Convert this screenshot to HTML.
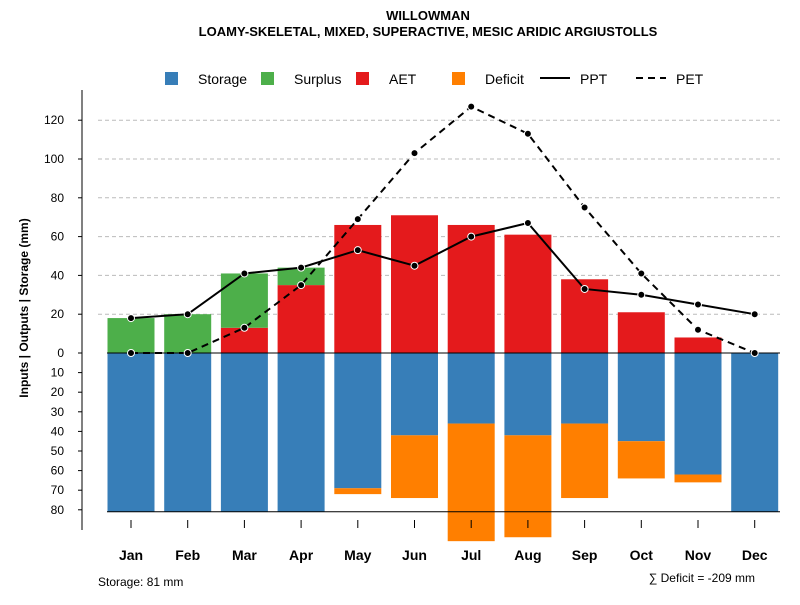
<!DOCTYPE html>
<html><head><meta charset="utf-8"><style>
body{margin:0;background:#fff;}
svg{font-family:"Liberation Sans",Arial,sans-serif;}
</style></head><body>
<svg id="chart" width="800" height="600">
<text x="428" y="20" text-anchor="middle" font-size="13" font-weight="bold">WILLOWMAN</text>
<text x="428" y="36" text-anchor="middle" font-size="13" font-weight="bold">LOAMY-SKELETAL, MIXED, SUPERACTIVE, MESIC ARIDIC ARGIUSTOLLS</text>
<g id="legend">
<g><rect x="165" y="72" width="13" height="13" fill="#377eb8"/><text x="198" y="84" font-size="14">Storage</text></g>
<g><rect x="261" y="72" width="13" height="13" fill="#4daf4a"/><text x="294" y="84" font-size="14">Surplus</text></g>
<g><rect x="356" y="72" width="13" height="13" fill="#e41a1c"/><text x="389" y="84" font-size="14">AET</text></g>
<g><rect x="452" y="72" width="13" height="13" fill="#ff7f00"/><text x="485" y="84" font-size="14">Deficit</text></g>
<g><line x1="540" y1="78" x2="570" y2="78" stroke="#000" stroke-width="2"/><text x="580" y="84" font-size="14">PPT</text></g>
<g><line x1="636" y1="78" x2="666" y2="78" stroke="#000" stroke-width="2" stroke-dasharray="7,5"/><text x="676" y="84" font-size="14">PET</text></g>
</g>
<text transform="translate(28,308) rotate(-90)" text-anchor="middle" font-size="12" font-weight="bold">Inputs | Outputs | Storage    (mm)</text>
<text x="98" y="586" font-size="12">Storage: 81 mm</text>
<text x="755" y="582" text-anchor="end" font-size="12">∑ Deficit = -209 mm</text>
</svg>
<script>
const months=["Jan","Feb","Mar","Apr","May","Jun","Jul","Aug","Sep","Oct","Nov","Dec"];
const aet=[0,0,13,35,66,71,66,61,38,21,8,0];
const surplus=[18,20,28,9,0,0,0,0,0,0,0,0];
const storage=[81,81,81,81,69,42,36,42,36,45,62,81];
const deficit=[0,0,0,0,3,32,60,52,38,19,4,0];
const ppt=[18,20,41,44,53,45,60,67,33,30,25,20];
const pet=[0,0,13,35,69,103,127,113,75,41,12,0];
const upTicks=[0,20,40,60,80,100,120];
const downTicks=[10,20,30,40,50,60,70,80];
const svg=document.getElementById('chart');
const NS='http://www.w3.org/2000/svg';
const y0=353,k=1.94;
const yUp=v=>y0-v*k, yDn=v=>y0+v*1.96;
const xC=i=>131+i*56.7;
const bw=47;
function mk(t,a,p){const e=document.createElementNS(NS,t);for(const n in a)e.setAttribute(n,a[n]);(p||svg).appendChild(e);return e;}
const grid=mk('g',{});


upTicks.slice(1).forEach(v=>{const l=mk('line',{x1:98,x2:780,y1:yUp(v),y2:yUp(v),stroke:'#bbb','stroke-dasharray':'4,3'},grid);

});
const yax=mk('g',{'font-size':12});


mk('line',{x1:82,x2:82,y1:90,y2:530,stroke:'#000'},yax);
upTicks.forEach(v=>{mk('line',{x1:78,x2:82,y1:yUp(v),y2:yUp(v),stroke:'#000'},yax);const t=mk('text',{x:64,y:yUp(v)+4,'text-anchor':'end'},yax);t.textContent=v;

});
downTicks.forEach(v=>{mk('line',{x1:78,x2:82,y1:yDn(v),y2:yDn(v),stroke:'#000'},yax);const t=mk('text',{x:64,y:yDn(v)+4,'text-anchor':'end'},yax);t.textContent=v;

});
const bars=mk('g',{});


months.forEach((m,i)=>{
 const x=xC(i)-bw/2;
 if(storage[i]>0){const r=mk('rect',{x:x,y:y0,width:bw,height:yDn(storage[i])-y0,fill:'#377eb8'},bars);
 
 }
 if(deficit[i]>0){const r=mk('rect',{x:x,y:yDn(storage[i]),width:bw,height:yDn(storage[i]+deficit[i])-yDn(storage[i]),fill:'#ff7f00'},bars);
 
 }
 if(aet[i]>0){const r=mk('rect',{x:x,y:yUp(aet[i]),width:bw,height:y0-yUp(aet[i]),fill:'#e41a1c'},bars);
 
 }
 if(surplus[i]>0){const r=mk('rect',{x:x,y:yUp(aet[i]+surplus[i]),width:bw,height:yUp(aet[i])-yUp(aet[i]+surplus[i]),fill:'#4daf4a'},bars);
 
 }
 const t=mk('text',{x:xC(i),y:560,'text-anchor':'middle','font-size':14,'font-weight':'bold'});t.textContent=m;
 
 
 mk('line',{x1:xC(i),x2:xC(i),y1:520,y2:528,stroke:'#000'});
});
mk('line',{x1:107,x2:780,y1:y0,y2:y0,stroke:'#000'});
mk('line',{x1:107,x2:780,y1:yDn(81),y2:yDn(81),stroke:'#000'});
function series(vals,dash,name){
 const g=mk('g',{});
 
 
 mk('polyline',{points:vals.map((v,i)=>xC(i)+','+yUp(v)).join(' '),fill:'none',stroke:'#000','stroke-width':2,'stroke-dasharray':dash},g);
 vals.forEach((v,i)=>{const c=mk('circle',{cx:xC(i),cy:yUp(v),r:3.5,fill:'#000',stroke:'#fff','stroke-width':1},g);
 
 });
}
series(pet,'7,5','pet-line');
series(ppt,'none','ppt-line');
</script>
</body></html>
